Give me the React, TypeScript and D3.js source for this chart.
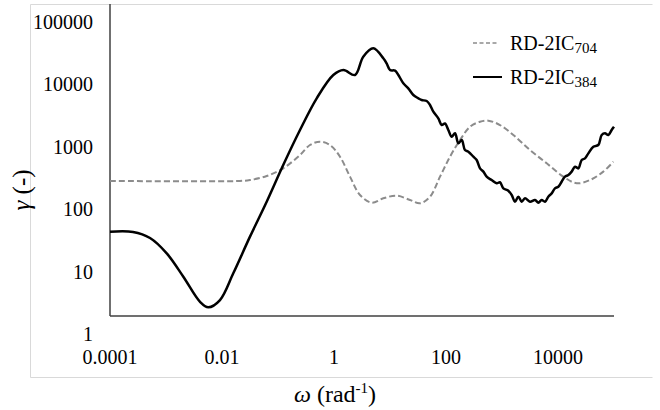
import React from "react";
import * as d3 from "d3";

const omegaTicks = [0.0001, 0.01, 1, 100, 10000];
const omegaTickLabels = ["0.0001", "0.01", "1", "100", "10000"];
const gammaTicks = [1, 10, 100, 1000, 10000, 100000];
const gammaTickLabels = ["1", "10", "100", "1000", "10000", "100000"];

const seriesNames = ["RD-2IC", "RD-2IC"];
const seriesSubs = ["704", "384"];

// RD-2IC704 (dashed)
const omega704 = [
  0.0001, 0.0209, 0.0316, 0.0628, 0.124, 0.247, 0.372, 0.562, 0.849, 1.28, 1.93,
  2.91, 4.71, 7.59, 13.2, 22.8, 34.4, 51.8, 78.2, 118, 178, 269, 405, 569, 920,
  1592, 3162, 6281, 12450, 21580, 37240, 64420, 97270,
];
const gamma704 = [
  146, 146, 151, 175, 233, 380, 550, 621, 550, 357, 171,
  86.9, 65.4, 76.9, 84.7, 72.3, 64.0, 81.7, 171, 357, 662, 1080, 1300, 1350, 1150,
  796, 457, 280, 171, 134, 151, 206, 297,
];

// RD-2IC384 (solid)
const omega384 = [
  0.0001, 0.000258, 0.000518, 0.00103, 0.00204, 0.00405, 0.00569, 0.0092, 0.0159,
  0.0316, 0.0628, 0.124, 0.247, 0.491, 0.972, 1.47, 2.37, 3.33, 5.04, 7.59, 8.71,
  10, 12.3, 14.1, 17.3, 21.2, 26.1, 32.1, 36.7, 45.2, 51.8, 59.4, 72.9, 83.8, 95.9,
  110, 126, 145, 166, 191, 218, 251, 308, 353, 405, 465, 532, 653, 804, 920, 1057,
  1297, 1489, 1706, 1959, 2244, 2576, 3162, 3882, 4457, 5105, 5861, 6714, 7709,
  8831, 10140, 11610, 13340, 15310, 17540, 20140, 23070, 26490, 30340, 34830,
  42760, 52480, 60260, 69020, 79250, 90780, 100000,
];
const gamma384 = [
  22.4, 22.2, 17.8, 10.1, 4.26, 1.69, 1.38, 1.8, 4.83,
  18.7, 67.9, 263, 957, 3083, 7280, 8750, 7280, 14300, 19500, 13500, 11200,
  8750, 8550, 7280, 5350, 4450, 3480, 3080, 2890, 2790, 2410, 1880, 1470, 1150, 1220,
  957, 748, 846, 585, 662, 457, 430, 357, 316, 232, 206, 171, 151, 134, 139, 111,
  102, 86.9, 67.9, 81.7, 67.9, 76.9, 67.9, 72.3, 65.5, 72.3, 67.9, 81.7, 92.4,
  111, 118, 142, 171, 182, 206, 247, 232, 316, 336, 404,
  517, 550, 796, 846, 796, 957, 1080,
];

const FONT = "'Liberation Serif', 'Times New Roman', serif";

export default function App() {
  const x = d3.scaleLog().domain([0.0001, 100000]).range([110, 614]);
  const y = d3.scaleLog().domain([1, 100000]).range([316, 4]);

  const line = d3
    .line<[number, number]>()
    .x((d) => x(d[0]))
    .y((d) => y(d[1]))
    .curve(d3.curveCatmullRom.alpha(0.5));

  const d704 = line(omega704.map((w, i) => [w, gamma704[i]]) as [number, number][]) || "";
  const d384 = line(omega384.map((w, i) => [w, gamma384[i]]) as [number, number][]) || "";

  return (
    <svg
      width={660}
      height={410}
      style={{ position: "absolute", left: 0, top: 0, background: "#fff" }}
      fontFamily={FONT}
    >
      <rect x={0} y={0} width={660} height={410} fill="#fff" />
      {/* outer border */}
      <path d="M652.5,4.5 H30.5 V377.5 H652.5" fill="none" stroke="#d9d9d9" strokeWidth={1} />

      {/* axes */}
      <line x1={110} x2={110} y1={y(100000)} y2={y(1)} stroke="#404040" strokeWidth={1.5} />
      <line x1={110} x2={x(100000)} y1={y(1)} y2={y(1)} stroke="#404040" strokeWidth={1.5} />

      {/* y tick labels */}
      {gammaTicks.map((t, i) => (
        <text key={"yt" + i} x={93} y={y(t) + 25} textAnchor="end" fontSize={20} fill="#000">
          {gammaTickLabels[i]}
        </text>
      ))}
      {/* x tick labels */}
      {omegaTicks.map((t, i) => (
        <text key={"xt" + i} x={x(t)} y={364} textAnchor="middle" fontSize={20} fill="#000">
          {omegaTickLabels[i]}
        </text>
      ))}

      {/* series */}
      <path d={d704} fill="none" stroke="#8c8c8c" strokeWidth={2} strokeDasharray="6,3" />
      <path d={d384} fill="none" stroke="#000" strokeWidth={2.5} strokeLinejoin="round" />

      {/* axis titles */}
      <text x={335} y={402} textAnchor="middle" fontSize={24} fill="#000">
        <tspan fontStyle="italic">ω</tspan>
        <tspan> (rad</tspan>
        <tspan fontSize={15} dy={-9}>-1</tspan>
        <tspan dy={9}>)</tspan>
      </text>
      <text
        transform="translate(30,190) rotate(-90)"
        textAnchor="middle"
        fontSize={25}
        fill="#000"
      >
        <tspan fontStyle="italic">γ</tspan>
        <tspan> (-)</tspan>
      </text>

      {/* legend */}
      <line x1={473} x2={499} y1={43} y2={43} stroke="#8c8c8c" strokeWidth={1.5} strokeDasharray="4,2.5" />
      <text x={510} y={50} fontSize={20} fill="#000">
        {seriesNames[0]}
        <tspan fontSize={15} dy={3}>{seriesSubs[0]}</tspan>
      </text>
      <line x1={473} x2={502} y1={77} y2={77} stroke="#000" strokeWidth={2} />
      <text x={510} y={84} fontSize={20} fill="#000">
        {seriesNames[1]}
        <tspan fontSize={15} dy={3}>{seriesSubs[1]}</tspan>
      </text>
    </svg>
  );
}
